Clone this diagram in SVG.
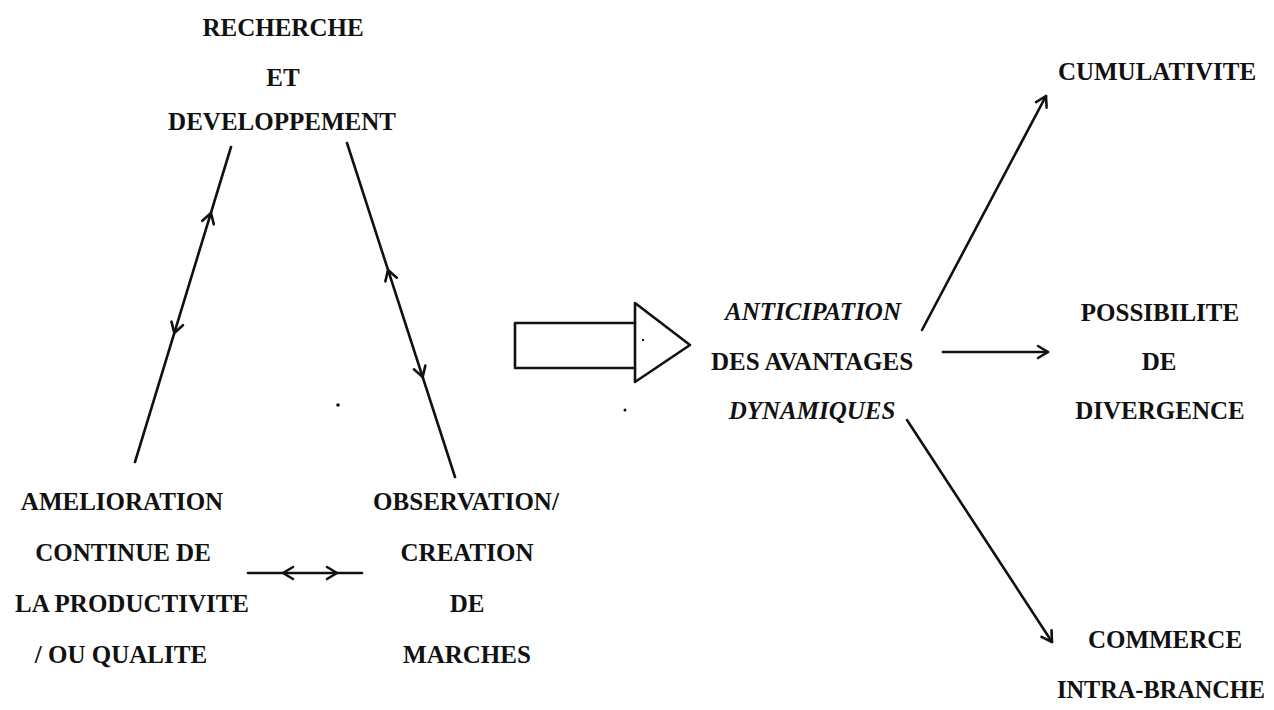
<svg xmlns="http://www.w3.org/2000/svg" width="1274" height="710" viewBox="0 0 1274 710">
  <defs>
    <style>
      .lbl { font-family: "Liberation Serif", "DejaVu Serif", serif; font-size: 25px; font-weight: bold; fill: #111; text-anchor: middle; }
      .it { font-style: italic; }
      .ln { fill: none; stroke: #111; stroke-width: 2.6; stroke-linecap: round; stroke-linejoin: round; }
      .box { fill: #fff; stroke: #111; stroke-width: 2.6; stroke-linejoin: round; }
    </style>
    <!-- open chevron pointing along +x, tip at origin -->
    <path id="chev" d="M-10,-6 L0,0 L-10,6" fill="none" stroke="#111" stroke-width="2.6" stroke-linecap="round" stroke-linejoin="round"/>
  </defs>
  <rect width="1274" height="710" fill="#fff"/>

  <g id="connectors">
    <!-- R&D <-> amelioration -->
    <path class="ln" d="M231,147 L135,462"/>
    <use href="#chev" transform="translate(211,213) rotate(-73.05)"/>
    <use href="#chev" transform="translate(174.3,333) rotate(106.95)"/>
    <!-- R&D <-> observation -->
    <path class="ln" d="M347,143 L455,477"/>
    <use href="#chev" transform="translate(388,270) rotate(-107.92)"/>
    <use href="#chev" transform="translate(422.7,377) rotate(72.08)"/>
    <!-- amelioration <-> observation -->
    <path class="ln" d="M248,573 L362,573"/>
    <use href="#chev" transform="translate(283,573) rotate(180)"/>
    <use href="#chev" transform="translate(337,573)"/>
    <!-- outcomes -->
    <path class="ln" d="M922,330 L1046,96"/>
    <use href="#chev" transform="translate(1046,96) rotate(-62.08)"/>
    <path class="ln" d="M943,352 L1048,352"/>
    <use href="#chev" transform="translate(1048,352)"/>
    <path class="ln" d="M907,420 L1052,642"/>
    <use href="#chev" transform="translate(1052,642) rotate(56.85)"/>
  </g>

  <g id="big-arrow">
    <path class="box" d="M515,323 L635,323 L635,303 L690,345 L635,382 L635,368 L515,368 Z"/>
    <path class="ln" d="M635,323 L635,368"/>
  </g>

  <g id="specks" fill="#111">
    <circle cx="643" cy="340" r="1.2"/>
    <circle cx="338" cy="405" r="1.8"/>
    <circle cx="625" cy="410" r="1.5"/>
  </g>

  <g id="node-rd" class="lbl">
    <text x="283" y="36">RECHERCHE</text>
    <text x="283" y="86">ET</text>
    <text x="282" y="130">DEVELOPPEMENT</text>
  </g>

  <g id="node-amelioration" class="lbl">
    <text x="122" y="510">AMELIORATION</text>
    <text x="123" y="561">CONTINUE DE</text>
    <text x="132" y="612">LA PRODUCTIVITE</text>
    <text x="121" y="663">/ OU QUALITE</text>
  </g>

  <g id="node-observation" class="lbl">
    <text x="466" y="510">OBSERVATION/</text>
    <text x="467" y="561">CREATION</text>
    <text x="467" y="612">DE</text>
    <text x="467" y="663">MARCHES</text>
  </g>

  <g id="node-anticipation" class="lbl">
    <text class="it" x="813" y="320">ANTICIPATION</text>
    <text x="812" y="370">DES AVANTAGES</text>
    <text class="it" x="812" y="419">DYNAMIQUES</text>
  </g>

  <g id="node-cumulativite" class="lbl">
    <text x="1157" y="80">CUMULATIVITE</text>
  </g>

  <g id="node-divergence" class="lbl">
    <text x="1160" y="321">POSSIBILITE</text>
    <text x="1159" y="370">DE</text>
    <text x="1160" y="419">DIVERGENCE</text>
  </g>

  <g id="node-commerce" class="lbl">
    <text x="1165" y="648">COMMERCE</text>
    <text x="1161" y="698" textLength="208" lengthAdjust="spacingAndGlyphs">INTRA-BRANCHE</text>
  </g>
</svg>
